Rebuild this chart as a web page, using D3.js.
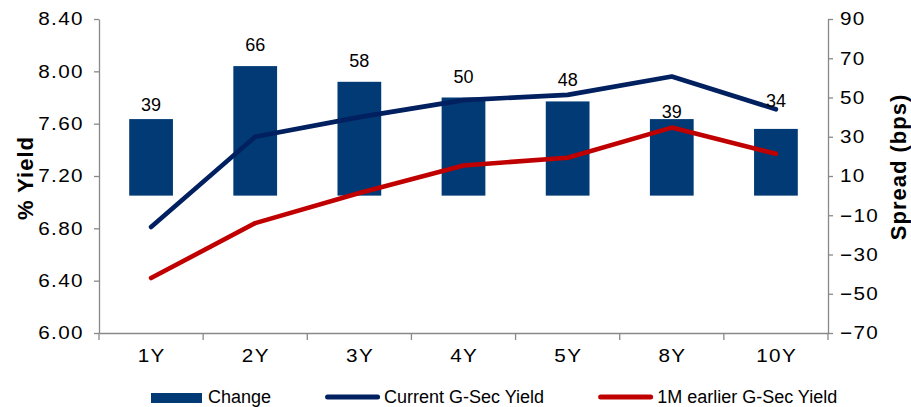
<!DOCTYPE html>
<html>
<head>
<meta charset="utf-8">
<script src="https://cdn.jsdelivr.net/npm/d3@7"></script>
<style>
  body { margin: 0; background: #fff; }
  svg { display: block; font-family: "Liberation Sans", Arial, sans-serif; }
</style>
</head>
<body>
<svg id="chart" width="911" height="407"></svg>
<script>
// G-Sec yield curve: current vs one month earlier, with the change in bps
const categories   = ["1Y", "2Y", "3Y", "4Y", "5Y", "8Y", "10Y"];
const currentYield = [6.81, 7.50, 7.65, 7.78, 7.82, 7.96, 7.71];
const earlierYield = [6.42, 6.84, 7.07, 7.28, 7.34, 7.57, 7.37];
const changeBps    = [39, 66, 58, 50, 48, 39, 34];
const yieldTicks   = [6.0, 6.4, 6.8, 7.2, 7.6, 8.0, 8.4];
const spreadTicks  = [-70, -50, -30, -10, 10, 30, 50, 70, 90];
const seriesNames  = ["Change", "Current G-Sec Yield", "1M earlier G-Sec Yield"];

const svg = d3.select("#chart");
const plotLeft = 99, plotRight = 828, plotTop = 19, plotBottom = 333;

const AXIS = "#898989";
const BAR_FILL = "#023a75";
const NAVY = "#002060";
const RED = "#c00000";
const TICK_STRETCH = 1.15;   // tick labels are drawn slightly wide

const x = d3.scaleBand().domain(categories).range([plotLeft, plotRight]);
const yL = d3.scaleLinear().domain([6.0, 8.4]).range([plotBottom, plotTop]);
const yR = d3.scaleLinear().domain([-70, 90]).range([plotBottom, plotTop]);
const cx = c => x(c) + x.bandwidth() / 2;
const barW = x.bandwidth() * 0.42;

// bars: change in bps on the right-hand axis, from zero
svg.append("g").selectAll("rect")
  .data(categories)
  .join("rect")
  .attr("x", c => cx(c) - barW / 2)
  .attr("width", barW)
  .attr("y", (c, i) => yR(changeBps[i]))
  .attr("height", (c, i) => yR(0) - yR(changeBps[i]))
  .attr("fill", BAR_FILL);

// yield lines on the left-hand axis
const line = d3.line().x(d => cx(d.c)).y(d => yL(d.v));
[[earlierYield, RED], [currentYield, NAVY]].forEach(([vals, col]) => {
  svg.append("path")
    .datum(categories.map((c, i) => ({ c, v: vals[i] })))
    .attr("d", line)
    .attr("fill", "none")
    .attr("stroke", col)
    .attr("stroke-width", 4.6)
    .attr("stroke-linecap", "round")
    .attr("stroke-linejoin", "round");
});

// axes
function styleAxis(g) {
  g.attr("font-family", null);
  g.select(".domain").attr("stroke", AXIS).attr("stroke-width", 1.3);
  g.selectAll(".tick line").attr("stroke", AXIS).attr("stroke-width", 1.3);
  g.selectAll(".tick text")
    .attr("fill", "#000")
    .style("font-size", "18px")
    .style("letter-spacing", "1.2px")
    .each(function () {
      const t = d3.select(this);
      const px = +t.attr("x") || 0;
      t.attr("x", px / TICK_STRETCH)
       .attr("transform", `scale(${TICK_STRETCH},1)`);
    });
}

svg.append("g")
  .attr("transform", `translate(${plotLeft},0)`)
  .call(d3.axisLeft(yL).tickValues(yieldTicks).tickFormat(d3.format(".2f"))
    .tickSize(5).tickSizeOuter(0).tickPadding(10))
  .call(styleAxis);

svg.append("g")
  .attr("transform", `translate(${plotRight},0)`)
  .call(d3.axisRight(yR).tickValues(spreadTicks).tickFormat(d3.format("d"))
    .tickSize(5).tickSizeOuter(0).tickPadding(7))
  .call(styleAxis);

const xAxis = svg.append("g")
  .attr("transform", `translate(0,${plotBottom})`)
  .call(d3.axisBottom(x).tickSize(0).tickSizeOuter(0).tickPadding(16))
  .call(styleAxis);
xAxis.selectAll(".tick text").attr("dx", "0.6px");

// category boundary ticks on the x axis
xAxis.selectAll("line.boundary")
  .data(d3.range(categories.length + 1))
  .join("line")
  .attr("class", "boundary")
  .attr("x1", i => plotLeft + i * x.step())
  .attr("x2", i => plotLeft + i * x.step())
  .attr("y1", 0)
  .attr("y2", 7)
  .attr("stroke", AXIS)
  .attr("stroke-width", 1.3);

// value labels above the bars (per-label lift as laid out in the chart)
const labelGap = [8, 15, 15, 15, 15, 1, 22];
svg.append("g").selectAll("text")
  .data(categories)
  .join("text")
  .attr("x", c => cx(c))
  .attr("y", (c, i) => yR(changeBps[i]) - labelGap[i])
  .attr("text-anchor", "middle")
  .attr("fill", "#000")
  .style("font-size", "18px")
  .text((c, i) => changeBps[i]);

// axis titles
svg.append("text")
  .attr("transform", "translate(33,178) rotate(-90)")
  .attr("text-anchor", "middle")
  .style("font-size", "22px")
  .style("font-weight", "bold")
  .style("letter-spacing", "1px")
  .text("% Yield");

svg.append("text")
  .attr("transform", "translate(906,167) rotate(-90)")
  .attr("text-anchor", "middle")
  .style("font-size", "22px")
  .style("font-weight", "bold")
  .style("letter-spacing", "1px")
  .text("Spread (bps)");

// legend
const legend = svg.append("g");
const legendY = 403;
let lx = 151;
seriesNames.forEach((name, i) => {
  if (i === 0) {
    legend.append("rect")
      .attr("x", lx).attr("y", legendY - 10)
      .attr("width", 51).attr("height", 10)
      .attr("fill", BAR_FILL);
    lx += 51 + 6;
  } else {
    legend.append("line")
      .attr("x1", lx + 2.5).attr("x2", lx + 52.5)
      .attr("y1", legendY - 6).attr("y2", legendY - 6)
      .attr("stroke", i === 1 ? NAVY : RED)
      .attr("stroke-width", 5)
      .attr("stroke-linecap", "round");
    lx += 55 + 4;
  }
  const t = legend.append("text")
    .attr("x", lx).attr("y", legendY)
    .attr("fill", "#000")
    .style("font-size", "18px")
    .text(name);
  lx += t.node().getComputedTextLength() + 54;
});
</script>
</body>
</html>
